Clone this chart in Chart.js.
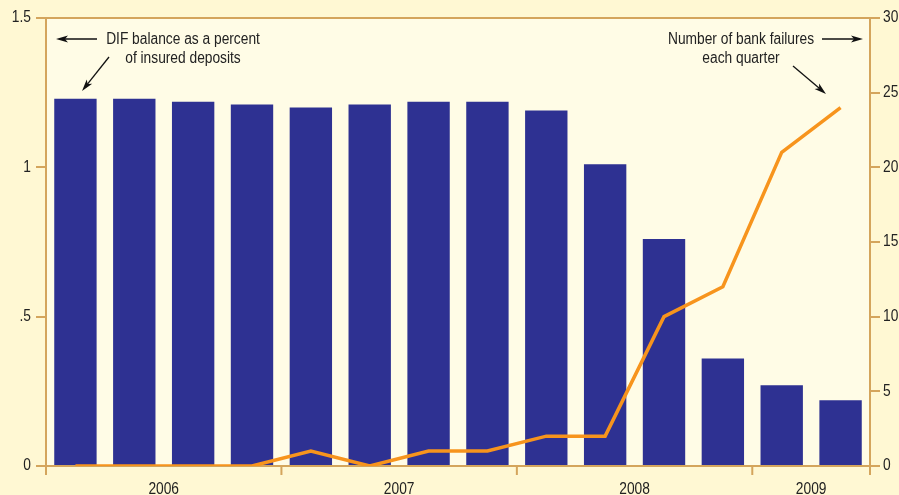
<!DOCTYPE html>
<html>
<head>
<meta charset="utf-8">
<script src="https://cdn.jsdelivr.net/npm/chart.js@4/dist/chart.umd.min.js"></script>
<style>
  html, body { margin: 0; padding: 0; background: #FFF8D3; }
  #wrap { width: 899px; height: 495px; position: relative; }
</style>
</head>
<body>
<div id="wrap"><canvas id="c" width="899" height="495"></canvas></div>
<script>
const quarters = ['2006Q1','2006Q2','2006Q3','2006Q4','2007Q1','2007Q2','2007Q3','2007Q4','2008Q1','2008Q2','2008Q3','2008Q4','2009Q1','2009Q2'];
const difRatio = [1.23, 1.23, 1.22, 1.21, 1.20, 1.21, 1.22, 1.22, 1.19, 1.01, 0.76, 0.36, 0.27, 0.22];
const bankFailures = [0, 0, 0, 0, 1, 0, 1, 1, 2, 2, 10, 12, 21, 24];
const years = ['2006', '2007', '2008', '2009'];
const quartersPerYear = [4, 4, 4, 2];
const leftTicks = [0, 0.5, 1, 1.5];
const leftTickLabels = ['0', '.5', '1', '1.5'];
const rightTicks = [0, 5, 10, 15, 20, 25, 30];
const rightTickLabels = ['0', '5', '10', '15', '20', '25', '30'];
const noteLeft = ['DIF balance as a percent', 'of insured deposits'];
const noteRight = ['Number of bank failures', 'each quarter'];

const TAN = '#D4A55C';
const FONT = "'Liberation Sans', Arial, sans-serif";
const SX = 0.86; // horizontal condensing of the text face

function condText(ctx, txt, x, y, align) {
  ctx.save();
  ctx.font = '16px ' + FONT;
  ctx.textBaseline = 'middle';
  ctx.textAlign = align;
  ctx.translate(x, y);
  ctx.scale(SX, 1);
  ctx.fillText(txt, 0, 0);
  ctx.restore();
}

function arrow(ctx, x1, y1, x2, y2) {
  const ang = Math.atan2(y2 - y1, x2 - x1);
  const hl = 12, hw = 3.5;
  const c = Math.cos(ang), s = Math.sin(ang);
  ctx.beginPath();
  ctx.moveTo(x1, y1);
  ctx.lineTo(x2 - hl * 0.7 * c, y2 - hl * 0.7 * s);
  ctx.stroke();
  ctx.beginPath();
  ctx.moveTo(x2, y2);
  ctx.lineTo(x2 - hl * c + hw * s, y2 - hl * s - hw * c);
  ctx.lineTo(x2 - hl * 0.75 * c, y2 - hl * 0.75 * s);
  ctx.lineTo(x2 - hl * c - hw * s, y2 - hl * s + hw * c);
  ctx.closePath();
  ctx.fill();
}

const decor = {
  id: 'decor',
  beforeDraw(chart) {
    const { ctx, chartArea: a } = chart;
    ctx.save();
    ctx.fillStyle = '#FFF8D3';
    ctx.fillRect(0, 0, chart.width, chart.height);
    ctx.fillStyle = '#FFFCE6';
    ctx.fillRect(a.left, a.top, a.right - a.left, a.bottom - a.top);
    ctx.restore();
  },
  afterDraw(chart) {
    const { ctx, chartArea: a } = chart;
    const yl = chart.scales.y, yr = chart.scales.y2;
    ctx.save();
    // top frame line
    ctx.strokeStyle = TAN;
    ctx.lineWidth = 2;
    ctx.beginPath();
    ctx.moveTo(a.left, a.top);
    ctx.lineTo(a.right, a.top);
    ctx.stroke();
    // year boundary ticks
    const step = (a.right - a.left) / quarters.length;
    let idx = 0;
    const bounds = [a.left];
    quartersPerYear.forEach(n => { idx += n; bounds.push(a.left + idx * step); });
    ctx.beginPath();
    bounds.forEach(b => { ctx.moveTo(b, a.bottom); ctx.lineTo(b, a.bottom + 9); });
    ctx.stroke();
    ctx.fillStyle = '#222';
    years.forEach((y, i) => {
      condText(ctx, y, (bounds[i] + bounds[i + 1]) / 2, a.bottom + 24, 'center');
    });
    // axis tick labels
    leftTicks.forEach((v, i) => condText(ctx, leftTickLabels[i], a.left - 15, yl.getPixelForValue(v), 'right'));
    rightTicks.forEach((v, i) => condText(ctx, rightTickLabels[i], a.right + 13, yr.getPixelForValue(v), 'left'));
    // annotations
    ctx.fillStyle = '#222';
    condText(ctx, noteLeft[0], 183, 40, 'center');
    condText(ctx, noteLeft[1], 183, 59, 'center');
    condText(ctx, noteRight[0], 741, 40, 'center');
    condText(ctx, noteRight[1], 741, 59, 'center');
    ctx.strokeStyle = '#111';
    ctx.fillStyle = '#111';
    ctx.lineWidth = 1.3;
    arrow(ctx, 97, 39, 56, 39);
    arrow(ctx, 109, 57, 82, 91);
    arrow(ctx, 822, 39, 863, 39);
    arrow(ctx, 793, 66, 826, 94);
    ctx.restore();
  }
};

new Chart(document.getElementById('c'), {
  data: {
    labels: quarters,
    datasets: [
      {
        type: 'line',
        data: bankFailures,
        yAxisID: 'y2',
        borderColor: '#F7941D',
        borderWidth: 3.5,
        pointRadius: 0,
        tension: 0,
        order: 0,
        borderJoinStyle: 'miter'
      },
      {
        type: 'bar',
        data: difRatio,
        yAxisID: 'y',
        backgroundColor: '#2E3192',
        barPercentage: 0.72,
        categoryPercentage: 1,
        order: 1
      }
    ]
  },
  options: {
    responsive: false,
    animation: false,
    layout: { padding: { top: 18, left: 0, right: 0, bottom: 0 } },
    plugins: { legend: { display: false }, tooltip: { enabled: false } },
    scales: {
      x: {
        type: 'category',
        offset: true,
        grid: { display: false },
        border: { display: true, color: TAN, width: 2 },
        ticks: { display: false },
        afterFit(s) { s.height = 29; }
      },
      y: {
        position: 'left',
        min: 0, max: 1.5,
        afterBuildTicks(s) { s.ticks = leftTicks.map(v => ({ value: v })); },
        ticks: { display: false },
        grid: { drawOnChartArea: false, drawTicks: true, tickLength: 10, color: TAN, lineWidth: 2 },
        border: { display: true, color: TAN, width: 2 },
        afterFit(s) { s.width = 46; }
      },
      y2: {
        position: 'right',
        min: 0, max: 30,
        afterBuildTicks(s) { s.ticks = rightTicks.map(v => ({ value: v })); },
        ticks: { display: false },
        grid: { drawOnChartArea: false, drawTicks: true, tickLength: 10, color: TAN, lineWidth: 2 },
        border: { display: true, color: TAN, width: 2 },
        afterFit(s) { s.width = 29; }
      }
    }
  },
  plugins: [decor]
});
</script>
</body>
</html>
